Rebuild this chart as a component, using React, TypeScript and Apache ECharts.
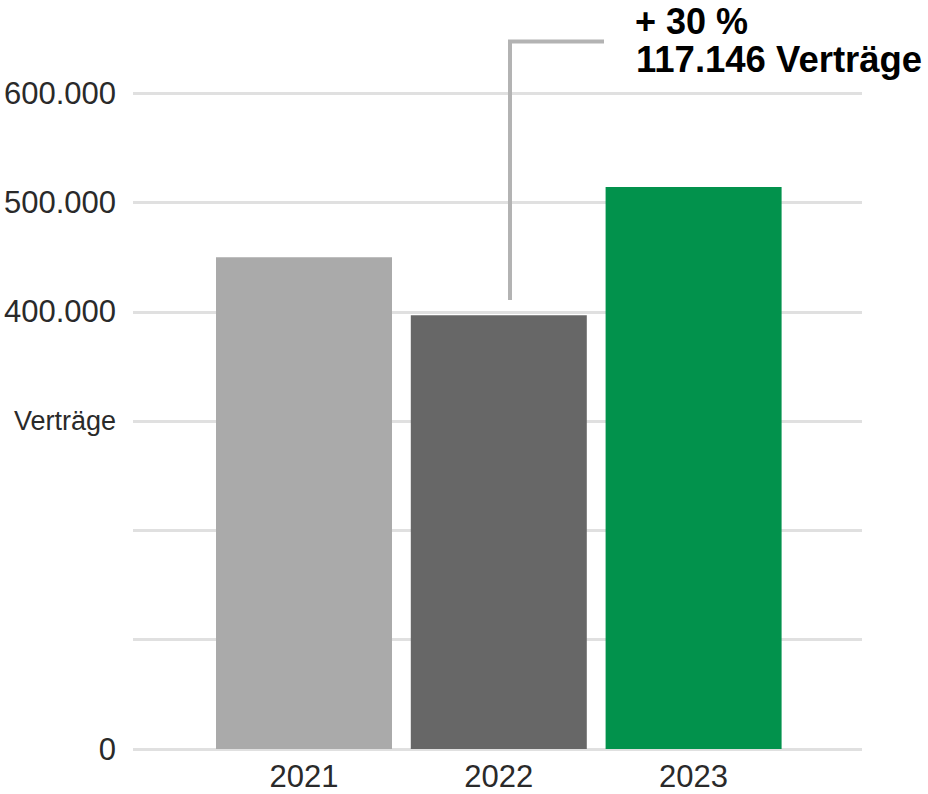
import React, { useEffect, useRef } from "react";
import * as echarts from "echarts";

const years = ["2021", "2022", "2023"];
const contracts = [450000, 397000, 514146];
const barColors = ["#aaaaaa", "#676767", "#02924c"];
const yTickLabels: Record<number, string> = {
  0: "0",
  100000: "",
  200000: "",
  300000: "{v|Verträge}",
  400000: "400.000",
  500000: "500.000",
  600000: "600.000",
};
const annotationLines = ["+ 30 %", "117.146 Verträge"];

const FONT = "'Liberation Sans', Arial, Helvetica, sans-serif";

export default function App() {
  const ref = useRef<HTMLDivElement>(null);
  useEffect(() => {
    if (!ref.current) return;
    const chart = echarts.init(ref.current, undefined, { renderer: "svg" });
    chart.setOption({
      animation: false,
      backgroundColor: "#ffffff",
      grid: [
        { left: 133, right: 66, top: 93.3, bottom: 45 },
        { left: 206.6, right: 137, top: 93.3, bottom: 45 },
      ],
      xAxis: [
        { gridIndex: 0, type: "value", min: 0, max: 1, show: false },
        {
          gridIndex: 1,
          type: "category",
          data: years,
          axisLine: { show: false },
          axisTick: { show: false },
          axisLabel: {
            fontSize: 31,
            fontFamily: FONT,
            color: "#2a2a2a",
            margin: 12,
          },
        },
      ],
      yAxis: [
        {
          gridIndex: 0,
          type: "value",
          min: 0,
          max: 600000,
          interval: 100000,
          axisLine: { show: false },
          axisTick: { show: false },
          splitLine: { show: true, lineStyle: { color: "#e0e0e0", width: 3 } },
          axisLabel: {
            fontSize: 31,
            fontFamily: FONT,
            color: "#2a2a2a",
            margin: 17,
            formatter: (v: number) => yTickLabels[v] ?? "",
            rich: {
              v: { fontSize: 27, fontFamily: FONT, color: "#2a2a2a" },
            },
          },
        },
        {
          gridIndex: 1,
          type: "value",
          min: 0,
          max: 600000,
          interval: 100000,
          show: false,
          splitLine: { show: false },
        },
      ],
      series: [
        {
          type: "bar",
          xAxisIndex: 1,
          yAxisIndex: 1,
          barWidth: 176,
          data: contracts.map((v, i) => ({
            value: v,
            itemStyle: { color: barColors[i] },
          })),
          z: 3,
        },
      ],
      graphic: [
        {
          type: "polyline",
          shape: {
            points: [
              [510, 300],
              [510, 41.5],
              [604, 41.5],
            ],
          },
          style: { stroke: "#b3b3b3", lineWidth: 4, fill: null },
          z: 10,
        },
        {
          type: "text",
          x: 635,
          y: 3,
          style: {
            text: annotationLines[0],
            font: `bold 36px ${FONT}`,
            fill: "#000000",
            verticalAlign: "top",
          },
          z: 10,
        },
        {
          type: "text",
          x: 636,
          y: 41,
          style: {
            text: annotationLines[1],
            font: `bold 36.5px ${FONT}`,
            fill: "#000000",
            verticalAlign: "top",
          },
          z: 10,
        },
      ],
    });
    return () => chart.dispose();
  }, []);
  return (
    <div
      ref={ref}
      style={{ position: "fixed", left: 0, top: 0, width: 928, height: 794 }}
    />
  );
}
